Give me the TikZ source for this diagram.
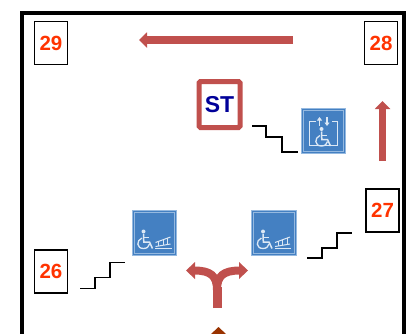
\documentclass[tikz,border=0pt]{standalone}
\usepackage{fontspec}
\setmainfont{Liberation Sans}
\usetikzlibrary{arrows.meta}
\definecolor{redarrow}{HTML}{C0504D}
\definecolor{numred}{HTML}{FF3300}
\definecolor{stblue}{HTML}{000099}
\definecolor{iconblue}{HTML}{4480C2}
\definecolor{iconedge}{HTML}{95B9E0}
\definecolor{iconline}{HTML}{DCE8F5}
\definecolor{marker}{HTML}{993300}
\tikzset{
  x=1pt,y=-1pt,
  numbox/.style={draw=black,line width=1.6pt,fill=white,minimum width=33pt,minimum height=43pt,inner sep=0pt,
    font=\bfseries\fontsize{20.5}{22}\selectfont,text=numred},
  stbox/.style={draw=redarrow,line width=5pt,rounded corners=1.5pt,fill=white,minimum width=41pt,minimum height=46pt,inner sep=0pt,
    font=\bfseries\fontsize{23}{25}\selectfont,text=stblue},
  iconbox/.style={draw=iconedge,line width=1pt,fill=iconblue,minimum width=44.5pt,minimum height=44.5pt,inner sep=0pt},
  stairs/.style={draw=black,line width=1.4pt},
  redline/.style={draw=redarrow,line width=7.5pt},
  tip/.style={-{Triangle[length=8pt,width=15pt]}},
  glyph/.style={draw=iconline,line width=1pt},
  wheelchair/.pic={
    \fill[iconline] (0,-11.5) circle (2);
    \draw[glyph,line width=1.5pt] (0,-9) -- (0.3,-1) -- (6,-1) -- (9,5.5);
    \draw[glyph] (0.3,-5.5) -- (5.5,-5.5);
    \draw[glyph,line width=1.3pt] (-1.6,-5) .. controls (-7.5,-2.5) and (-7,5.5) .. (0,5.5) .. controls (3.5,5.5) and (5.5,3.5) .. (6,1);
  },
  rampicon/.pic={
    \draw[draw=iconedge,line width=0.7pt] (-20.3,-20.3) rectangle (20.3,20.3);
    \pic at (-11,10) {wheelchair};
    \draw[glyph] (0.5,15.5) -- (17,15.5);
    \draw[glyph] (1,13.5) -- (16,11);
    \draw[glyph] (1,9.5) -- (16,4);
    \foreach \xx/\yt/\yb in {4/8.4/13,8.5/6.8/12.2,13/5.1/11.5} \draw[glyph] (\xx,\yt) -- (\xx,\yb);
  },
  lifticon/.pic={
    \draw[draw=iconedge,line width=0.7pt] (-20.3,-20.3) rectangle (20.3,20.3);
    \pic at (-2,9.5) {wheelchair};
    \draw[glyph] (-8,-10) -- (-14,-10) -- (-14,14) -- (13.5,14) -- (13.5,-10) -- (8,-10);
    \draw[glyph,line width=1.3pt,-{Triangle[length=3.5pt,width=5pt]}] (-4,-5) -- (-4,-14);
    \draw[glyph,line width=1.3pt,-{Triangle[length=3.5pt,width=5pt]}] (3.5,-14) -- (3.5,-5);
  },
}
\begin{document}
\begin{tikzpicture}
\useasboundingbox (0,0) rectangle (411,333);
\clip (0,0) rectangle (411,333);
% frame
\draw[line width=4pt] (21.5,345) -- (21.5,12.5) -- (403.5,12.5) -- (403.5,345);
% number boxes
\node[numbox] (n29) at (51,43) {29};
\node[numbox] (n28) at (381,43) {28};
\node[numbox] (n27) at (382.5,210.5) {27};
\node[numbox] (n26) at (51,271.5) {26};
% stair room
\node[stbox] (st) at (219.5,104.5) {ST};
% arrows
\draw[redline,tip] (293,40) -- (139,40);
\draw[redline,tip] (382.5,161) -- (382.5,101);
% stairs
\draw[stairs] (252,126) -- (266,126) -- (266,137) -- (282,137) -- (282,152) -- (298,152);
\draw[stairs] (80,288.5) -- (95,288.5) -- (95,277.5) -- (110,277.5) -- (110,262.5) -- (125,262.5);
\draw[stairs] (307,258) -- (322,258) -- (322,248) -- (337,248) -- (337,233) -- (352,233);
% icons
\node[iconbox] (lift) at (323.5,131) {};
\pic at (lift.center) {lifticon};
\node[iconbox] (rampa) at (154.5,233) {};
\pic at (rampa.center) {rampicon};
\node[iconbox] (rampb) at (274,233) {};
\pic at (rampb.center) {rampicon};
% forked arrow
\draw[redarrow,line width=9pt] (217,308) -- (217,287);
\draw[redarrow,line width=8pt] (217,290) .. controls (217,276) and (211,270.5) .. (194,270.5);
\draw[redarrow,line width=8pt] (217,290) .. controls (217,276) and (223,270.5) .. (240,270.5);
\fill[redarrow] (186,270.5) -- (195,262) -- (195,279) -- cycle;
\fill[redarrow] (248,270.5) -- (239,262) -- (239,279) -- cycle;
% entrance marker
\fill[marker] (218.5,327) -- (226,334) -- (218.5,341) -- (211,334) -- cycle;
\end{tikzpicture}
\end{document}
